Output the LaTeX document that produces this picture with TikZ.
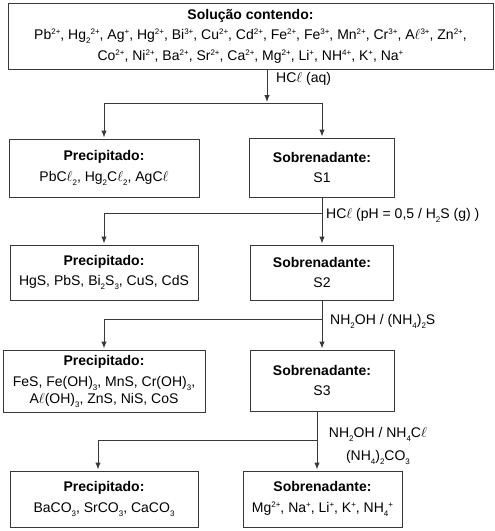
\documentclass[tikz,border=0pt]{standalone}
\usepackage{fontspec}
\setmainfont{Liberation Sans}
\usetikzlibrary{arrows.meta}
\definecolor{rand}{gray}{0.22}
\newcommand{\el}{$\ell$}
\newcommand{\hoch}[1]{\raisebox{0.65ex}{\fontsize{8}{8}\selectfont #1}}
\newcommand{\tief}[1]{\raisebox{-0.55ex}{\fontsize{8}{8}\selectfont #1}}
\tikzset{
  kasten/.style={draw=rand, line width=1pt, align=center, inner sep=0pt,
    font=\fontsize{14}{20.5}\selectfont},
  pfeil/.style={draw=rand, line width=1pt, shorten >=1pt,
    -{Latex[length=7pt,width=5.5pt]}},
  beschr/.style={font=\fontsize{14}{20.5}\selectfont, inner sep=0pt, anchor=west}
}

\begin{document}
\begin{tikzpicture}[x=1pt,y=-1pt]
  \useasboundingbox (0,0) rectangle (495,531);

  % Kaesten
  \node[kasten, minimum width=485pt, minimum height=66pt] (start) at (250.5,36)
    {\textbf{Solução contendo:}\\
     Pb\hoch{2+}, Hg\tief{2}\hoch{2+}, Ag\hoch{+}, Hg\hoch{2+}, Bi\hoch{3+}, Cu\hoch{2+}, Cd\hoch{2+}, Fe\hoch{2+}, Fe\hoch{3+}, Mn\hoch{2+}, Cr\hoch{3+}, A\el\hoch{3+}, Zn\hoch{2+},\\
     Co\hoch{2+}, Ni\hoch{2+}, Ba\hoch{2+}, Sr\hoch{2+}, Ca\hoch{2+}, Mg\hoch{2+}, Li\hoch{+}, NH\hoch{4+}, K\hoch{+}, Na\hoch{+}};

  \node[kasten, minimum width=190pt, minimum height=58pt] (p1) at (104,168)
    {\textbf{Precipitado:}\\ PbC\el\tief{2}, Hg\tief{2}C\el\tief{2}, AgC\el};
  \node[kasten, minimum width=145pt, minimum height=59pt] (s1) at (322,167.5)
    {\textbf{Sobrenadante:}\\ S1};

  \node[kasten, minimum width=188pt, minimum height=55pt] (p2) at (104,272.5)
    {\textbf{Precipitado:}\\ HgS, PbS, Bi\tief{2}S\tief{3}, CuS, CdS};
  \node[kasten, minimum width=143pt, minimum height=55pt] (s2) at (322,272.5)
    {\textbf{Sobrenadante:}\\ S2};

  \node[kasten, minimum width=202pt, minimum height=62pt] (p3) at (104,381)
    {\textbf{Precipitado:}\\[1pt] FeS, Fe(OH)\tief{3}, MnS, Cr(OH)\tief{3},\\[-4pt] A\el(OH)\tief{3}, ZnS, NiS, CoS};
  \node[kasten, minimum width=144pt, minimum height=61pt] (s3) at (322,380.5)
    {\textbf{Sobrenadante:}\\ S3};

  \node[kasten, minimum width=188pt, minimum height=56pt] (p4) at (104,499)
    {\textbf{Precipitado:}\\ BaCO\tief{3}, SrCO\tief{3}, CaCO\tief{3}};
  \node[kasten, minimum width=159pt, minimum height=56pt] (s4) at (322.5,499)
    {\textbf{Sobrenadante:}\\ Mg\hoch{2+}, Na\hoch{+}, Li\hoch{+}, K\hoch{+}, NH\tief{4}\hoch{+}};

  % Verzweigungen
  \coordinate (j0) at (267,103);
  \coordinate (j1) at (322,213);
  \coordinate (j2) at (322,319);
  \coordinate (j3) at (317,440);
  \coordinate (e4) at ([xshift=-6pt]p4.north);

  \draw[pfeil] (start.south -| j0) -- (j0);
  \draw[pfeil] (j0) -| (p1);
  \draw[pfeil] (j0) -| (s1);

  \draw[pfeil] (s1) -- (s2);
  \draw[pfeil] (j1) -| (p2);

  \draw[pfeil] (s2) -- (s3);
  \draw[pfeil] (j2) -| (p3);

  \draw[pfeil] (s3.south -| j3) -- (s4.north -| j3);
  \draw[pfeil] (j3) -| (e4);

  % Reagenzien
  \node[beschr] (r0) at (276,79) {HC\el{} (aq)};
  \node[beschr] (r1) at (326,215) {HC\el{} (pH = 0,5 / H\tief{2}S (g) )};
  \node[beschr] (r2) at (330,321) {NH\tief{2}OH / (NH\tief{4})\tief{2}S};
  \node[beschr, anchor=center, align=center] (r3) at (378,446)
    {NH\tief{2}OH / NH\tief{4}C\el\\[3pt] (NH\tief{4})\tief{2}CO\tief{3}};
\end{tikzpicture}
\end{document}
